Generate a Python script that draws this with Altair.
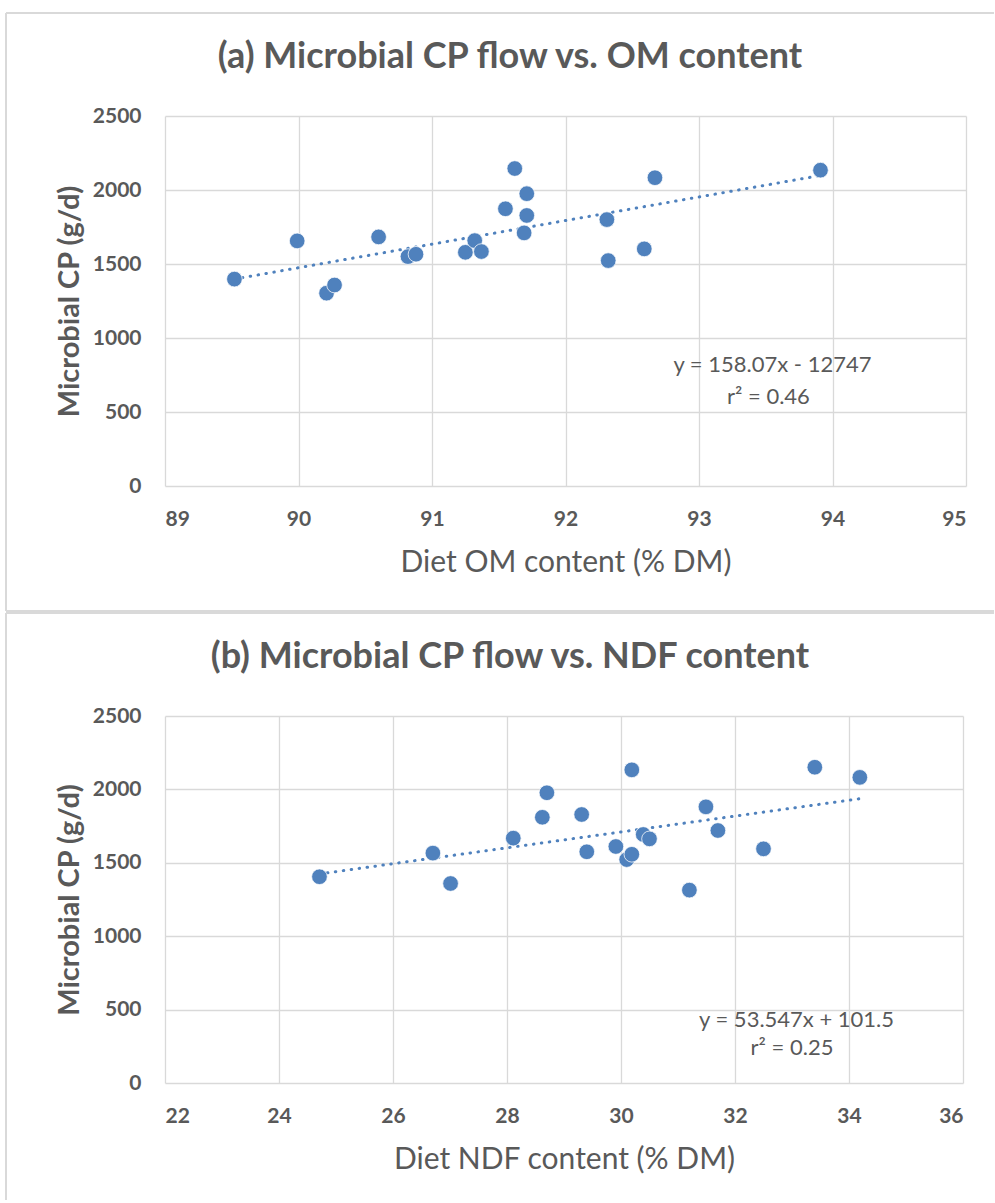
import altair as alt
import pandas as pd

# ---------------- data ----------------
# Panel (a): Diet OM content (% DM) vs Microbial CP (g/d)
om_x = [89.52, 89.99, 90.21, 90.27, 90.60, 90.82, 90.88, 91.25, 91.32, 91.37,
        91.55, 91.62, 91.71, 91.71, 91.69, 92.31, 92.32, 92.59, 92.67, 93.91]
om_y = [1398, 1656, 1303, 1358, 1683, 1550, 1566, 1579, 1658, 1584,
        1873, 2145, 1975, 1828, 1710, 1800, 1523, 1602, 2083, 2134]

# Panel (b): Diet NDF content (% DM) vs Microbial CP (g/d)
ndf_x = [24.71, 26.70, 27.01, 28.11, 28.62, 28.70, 29.31, 29.40, 29.91, 30.10,
         30.19, 30.19, 30.39, 30.50, 31.20, 31.49, 31.70, 32.50, 33.40, 34.19]
ndf_y = [1405, 1566, 1359, 1668, 1810, 1977, 1829, 1575, 1611, 1522,
         1558, 2133, 1693, 1663, 1314, 1881, 1720, 1595, 2151, 2082]

titles = ["(a) Microbial CP flow vs. OM content",
          "(b) Microbial CP flow vs. NDF content"]
x_titles = ["Diet OM content (% DM)", "Diet NDF content (% DM)"]
y_title = "Microbial CP (g/d)"
equations = [["y = 158.07x - 12747", "r\u00b2 = 0.46"],
             ["y = 53.547x + 101.5", "r\u00b2 = 0.25"]]

om_ticks = [89, 90, 91, 92, 93, 94, 95]
ndf_ticks = [22, 24, 26, 28, 30, 32, 34, 36]
y_ticks = [0, 500, 1000, 1500, 2000, 2500]

BLUE = "#4F81BD"
GRAY = "#595959"
BORDER = "#d9d9d9"
FONT = "Lato"


def panel(xs, ys, xticks, title, xtitle, eq, eq_pos, r2_pos, w, h, bottom_rule, border_bottom):
    df = pd.DataFrame({"x": xs, "y": ys})
    one = pd.DataFrame({"k": [0]})
    base = alt.Chart(df)

    xenc = alt.X(
        "x:Q",
        scale=alt.Scale(domain=[xticks[0], xticks[-1]], nice=False, zero=False),
        axis=alt.Axis(values=xticks, format="d", title=xtitle, titleFontSize=30,
                      titleFontWeight="normal", titleY=76, titleBaseline="middle",
                      labelPadding=22, labelFontSize=21, labelFontWeight="bold"),
    )
    yenc = alt.Y(
        "y:Q",
        scale=alt.Scale(domain=[y_ticks[0], y_ticks[-1]], nice=False),
        axis=alt.Axis(values=y_ticks, format="d", title=y_title, titleFontSize=29,
                      titleFontWeight="bold", titleX=-96, titleY=h / 2,
                      titleBaseline="middle", titleAlign="center", titleAngle=270,
                      labelPadding=24, labelFontSize=21, labelFontWeight="bold"),
    )

    trend = base.transform_regression("x", "y").mark_line(
        color=BLUE, strokeWidth=3, strokeDash=[0.5, 7.5], strokeCap="round"
    ).encode(x=xenc, y=yenc)

    pts = base.mark_circle(size=245, color=BLUE, opacity=1, stroke="white",
                           strokeWidth=0.75).encode(x="x:Q", y="y:Q")

    eq1 = alt.Chart(one).mark_text(text=eq[0], font=FONT, fontSize=22, color=GRAY,
                                   baseline="middle").encode(
        x=alt.datum(eq_pos[0]), y=alt.datum(eq_pos[1]))
    eq2 = alt.Chart(one).mark_text(text=eq[1], font=FONT, fontSize=22, color=GRAY,
                                   baseline="middle").encode(
        x=alt.datum(r2_pos[0]), y=alt.datum(r2_pos[1]))

    ttl = alt.Chart(one).mark_text(text=title, font=FONT, fontSize=36, fontWeight="bold",
                                   color=GRAY, baseline="middle", align="center").encode(
        x=alt.value(345), y=alt.value(-59))

    left = alt.Chart(one).mark_rule(color=BORDER, strokeWidth=2).encode(
        x=alt.value(-159), y=alt.value(-103), y2=alt.value(border_bottom))
    top = alt.Chart(one).mark_rule(color=BORDER, strokeWidth=2).encode(
        x=alt.value(-159), x2=alt.value(829), y=alt.value(-103))
    layers = [trend, pts, eq1, eq2, ttl, left, top]
    if bottom_rule:
        bot = alt.Chart(one).mark_rule(color=BORDER, strokeWidth=2).encode(
            x=alt.value(-159), x2=alt.value(829), y=alt.value(border_bottom))
        layers.append(bot)
    return alt.layer(*layers).properties(width=w, height=h)


a = panel(om_x, om_y, om_ticks, titles[0], x_titles[0], equations[0],
          (93.55, 818), (93.52, 600), 801, 370, True, 495)
b = panel(ndf_x, ndf_y, ndf_ticks, titles[1], x_titles[1], equations[1],
          (33.08, 429), (33.0, 238), 798, 367, False, 484)

chart = alt.vconcat(a, b, spacing=0).configure(
    padding={"left": 5, "top": 12, "right": 0, "bottom": 0},
    background="white",
).configure_view(stroke=None).configure_axis(
    grid=True, gridColor=BORDER, gridWidth=1.3, domain=False, ticks=False,
    labelFont=FONT, labelFontSize=21, labelFontWeight="bold", labelColor=GRAY,
    titleFont=FONT, titleColor=GRAY,
)

chart.save("out.html", embed_options={"renderer": "svg", "actions": False})
